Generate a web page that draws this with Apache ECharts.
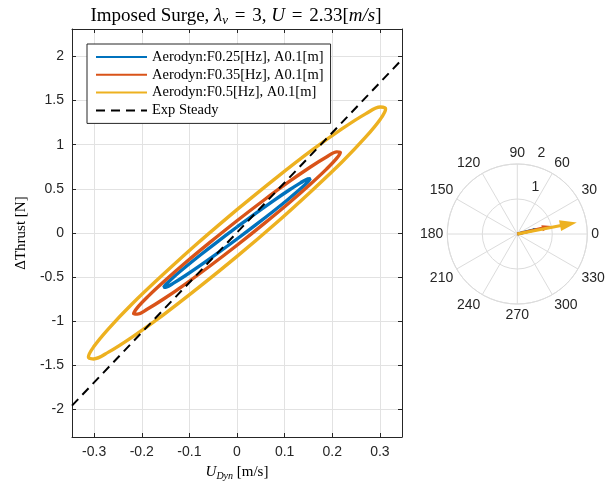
<!DOCTYPE html>
<html>
<head>
<meta charset="utf-8">
<script src="https://cdn.jsdelivr.net/npm/echarts@6/dist/echarts.min.js"></script>
<style>
  html, body { margin: 0; padding: 0; background: #ffffff; }
  #chart { width: 606px; height: 489px; }
</style>
</head>
<body>
<div id="chart"></div>
<script>
// ---- data ----------------------------------------------------------------
const seriesNames = [
  'Aerodyn:F0.25[Hz], A0.1[m]',
  'Aerodyn:F0.35[Hz], A0.1[m]',
  'Aerodyn:F0.5[Hz], A0.1[m]',
  'Exp Steady'
];

// hysteresis loops: [U_Dyn (m/s), dThrust (N)]
const loopF025 = [
  [0, 0.068], [-0.0399, -0.094], [-0.077, -0.249], [-0.1089, -0.388], [-0.1334, -0.500], [-0.1487, -0.578],
  [-0.154, -0.616], [-0.1487, -0.613], [-0.1334, -0.568], [-0.1089, -0.484], [-0.077, -0.367], [-0.0399, -0.225],
  [0, -0.068], [0.0399, 0.094], [0.077, 0.249], [0.1089, 0.388], [0.1334, 0.500], [0.1487, 0.578],
  [0.154, 0.616], [0.1487, 0.613], [0.1334, 0.568], [0.1089, 0.484], [0.077, 0.367], [0.0399, 0.225],
  [0, 0.068]
];
const loopF035 = [
  [0, 0.139], [-0.0562, -0.103], [-0.1085, -0.337], [-0.1534, -0.549], [-0.1879, -0.723], [-0.2096, -0.847],
  [-0.217, -0.915], [-0.2096, -0.919], [-0.1879, -0.861], [-0.1534, -0.745], [-0.1085, -0.578], [-0.0562, -0.371],
  [0, -0.139], [0.0562, 0.103], [0.1085, 0.337], [0.1534, 0.549], [0.1879, 0.723], [0.2096, 0.847],
  [0.217, 0.915], [0.2096, 0.919], [0.1879, 0.861], [0.1534, 0.745], [0.1085, 0.578], [0.0562, 0.371],
  [0, 0.139]
];
const loopF05 = [
  [0, 0.265], [-0.081, -0.108], [-0.156, -0.474], [-0.221, -0.807], [-0.270, -1.085], [-0.301, -1.289],
  [-0.312, -1.405], [-0.301, -1.426], [-0.270, -1.349], [-0.221, -1.181], [-0.156, -0.932], [-0.081, -0.619],
  [0, -0.265], [0.081, 0.108], [0.156, 0.474], [0.221, 0.807], [0.270, 1.085], [0.301, 1.289],
  [0.312, 1.405], [0.301, 1.426], [0.270, 1.349], [0.221, 1.181], [0.156, 0.932], [0.081, 0.619],
  [0, 0.265]
];
// steady reference line
const steadyLine = [[-0.3465, -1.955], [0.3465, 1.965]];

// phasors: magnitude and phase (deg)
const phasorMag = [0.66, 1.01, 1.73];
const phasorPhase = [14, 13, 11];

// axes
const xRange = [-0.3465, 0.3465];
const yRange = [-2.31, 2.31];
const xTicks = [-0.3, -0.2, -0.1, 0, 0.1, 0.2, 0.3];
const yTicks = [-2, -1.5, -1, -0.5, 0, 0.5, 1, 1.5, 2];

// ---- styles ----------------------------------------------------------------
const colors = ['#0072BD', '#D95319', '#EDB120', '#000000'];
const axisColor = '#262626';
const gridColor = '#e2e2e2';
const polarGrid = '#dcdcdc';
const serif = "'Liberation Serif', 'DejaVu Serif', serif";
const sans = "'Liberation Sans', Arial, sans-serif";
const polarCenter = [517.3, 234];
const polarRadius = 70;

const chart = echarts.init(document.getElementById('chart'));

function frameAxis(pos, showLabels, range, ticks, extra) {
  return Object.assign({
    type: 'value',
    gridIndex: 0,
    position: pos,
    min: range[0],
    max: range[1],
    axisLine: { show: true, onZero: false, lineStyle: { color: axisColor, width: 1 } },
    axisTick: { show: true, inside: true, length: 4, customValues: ticks, lineStyle: { color: axisColor } },
    axisLabel: {
      show: showLabels, customValues: ticks, color: axisColor, fontFamily: sans, fontSize: 14, margin: 8,
      formatter: v => String(v)
    },
    splitLine: { show: showLabels, lineStyle: { color: gridColor, width: 1 } }
  }, extra || {});
}

// compass-style arrow from the pole to (magnitude, phase)
function renderArrow(params, api) {
  const r = api.value(0), th = api.value(1);
  const o = api.coord([0, th]);
  const p = api.coord([r, th]);
  const dx = p[0] - o[0], dy = p[1] - o[1];
  const len = Math.hypot(dx, dy);
  const ux = dx / len, uy = dy / len;
  const hl = len * 0.28, hw = len * 0.09;
  const bx = p[0] - ux * hl, by = p[1] - uy * hl;
  const color = api.visual('color');
  return {
    type: 'group',
    children: [
      { type: 'line', shape: { x1: o[0], y1: o[1], x2: bx + ux, y2: by + uy },
        style: { stroke: color, lineWidth: 3 } },
      { type: 'polygon', shape: { points: [[p[0], p[1]], [bx - uy * hw, by + ux * hw], [bx + uy * hw, by - ux * hw]] },
        style: { fill: color } }
    ]
  };
}

const loops = [loopF025, loopF035, loopF05];
const series = loops.map((pts, i) => ({
  name: seriesNames[i],
  type: 'line',
  xAxisIndex: 0, yAxisIndex: 0,
  data: pts,
  smooth: 0.35,
  symbol: 'none',
  showSymbol: false,
  lineStyle: { color: colors[i], width: 3.4 },
  itemStyle: { color: colors[i] },
  z: 3 + i
}));
series.push({
  name: seriesNames[3],
  type: 'line',
  xAxisIndex: 0, yAxisIndex: 0,
  data: steadyLine,
  symbol: 'none',
  showSymbol: false,
  lineStyle: { color: colors[3], width: 2, type: [9, 6] },
  itemStyle: { color: colors[3] },
  z: 10
});
phasorMag.forEach((m, i) => {
  series.push({
    name: 'phasor ' + (i + 1),
    type: 'custom',
    coordinateSystem: 'polar',
    polarIndex: 0,
    data: [[m, phasorPhase[i]]],
    itemStyle: { color: colors[i] },
    renderItem: renderArrow,
    z: 5 + i
  });
});

const tStyle = { fontFamily: serif, fontSize: 19, fontWeight: 'normal', color: '#000', lineHeight: 24 };

const option = {
  backgroundColor: '#ffffff',
  animation: false,
  title: {
    text: '{n|Imposed Surge, }{i|λ}{s|v}{e| = }{n|3, }{i|U}{e| = }{n|2.33[}{i|m/s}{n|]}',
    left: 231,
    top: -1,
    textAlign: 'center',
    textStyle: {
      fontWeight: 'normal',
      rich: {
        n: tStyle,
        e: Object.assign({}, tStyle, { padding: [0, 2, 0, 2] }),
        i: Object.assign({}, tStyle, { fontStyle: 'italic' }),
        s: Object.assign({}, tStyle, { fontSize: 13, fontStyle: 'italic', padding: [10, 0, 0, 0] })
      }
    }
  },
  legend: {
    orient: 'vertical',
    left: 87,
    top: 44,
    padding: [5.5, 7, 5.5, 8],
    itemWidth: 51,
    itemHeight: 14,
    itemGap: 2.8,
    borderColor: axisColor,
    borderWidth: 1,
    backgroundColor: '#ffffff',
    itemStyle: { opacity: 0 },
    textStyle: { fontFamily: serif, fontSize: 14.5, color: '#000' },
    data: seriesNames
  },
  grid: { left: 72, top: 29, width: 330, height: 408, containLabel: false },
  xAxis: [
    frameAxis('bottom', true, xRange, xTicks, {
      name: '{i|U}{s|Dyn}{n| [m/s]}',
      nameLocation: 'middle',
      nameGap: 16,
      nameTextStyle: {
        rich: {
          n: { fontFamily: serif, fontSize: 15, color: '#000', lineHeight: 20 },
          i: { fontFamily: serif, fontSize: 15, fontStyle: 'italic', color: '#000', lineHeight: 20 },
          s: { fontFamily: serif, fontSize: 10, fontStyle: 'italic', color: '#000', lineHeight: 20, padding: [7, 0, 0, 0] }
        }
      }
    }),
    frameAxis('top', false, xRange, xTicks)
  ],
  yAxis: [
    frameAxis('left', true, yRange, yTicks, {
      name: 'ΔThrust [N]',
      nameLocation: 'middle',
      nameGap: 43,
      nameTextStyle: { fontFamily: serif, fontSize: 15, color: '#000' }
    }),
    frameAxis('right', false, yRange, yTicks)
  ],
  polar: [
    { center: polarCenter, radius: polarRadius },
    { center: [polarCenter[0] + 12, polarCenter[1] - 12], radius: polarRadius }
  ],
  angleAxis: [
    {
      polarIndex: 0, type: 'value', min: 0, max: 360, interval: 30,
      startAngle: 0, clockwise: false,
      axisLine: { show: true, lineStyle: { color: polarGrid, width: 1 } },
      axisTick: { show: false },
      axisLabel: { color: axisColor, fontFamily: sans, fontSize: 14, margin: 4 },
      splitLine: { show: true, lineStyle: { color: polarGrid, width: 1 } }
    },
    { polarIndex: 1, type: 'value', min: 0, max: 360, startAngle: 80, clockwise: false, show: false }
  ],
  radiusAxis: [
    {
      polarIndex: 0, type: 'value', min: 0, max: 2, interval: 1,
      axisLine: { show: false }, axisTick: { show: false }, axisLabel: { show: false },
      splitLine: { show: true, lineStyle: { color: polarGrid, width: 1 } }
    },
    {
      polarIndex: 1, type: 'value', min: 0, max: 2, interval: 1,
      axisLine: { show: false }, axisTick: { show: false },
      axisLabel: { show: true, showMinLabel: false, margin: 0, align: 'center', verticalAlign: 'middle',
        color: axisColor, fontFamily: sans, fontSize: 14 },
      splitLine: { show: false }
    }
  ],
  series: series
};

chart.setOption(option);
</script>
</body>
</html>
